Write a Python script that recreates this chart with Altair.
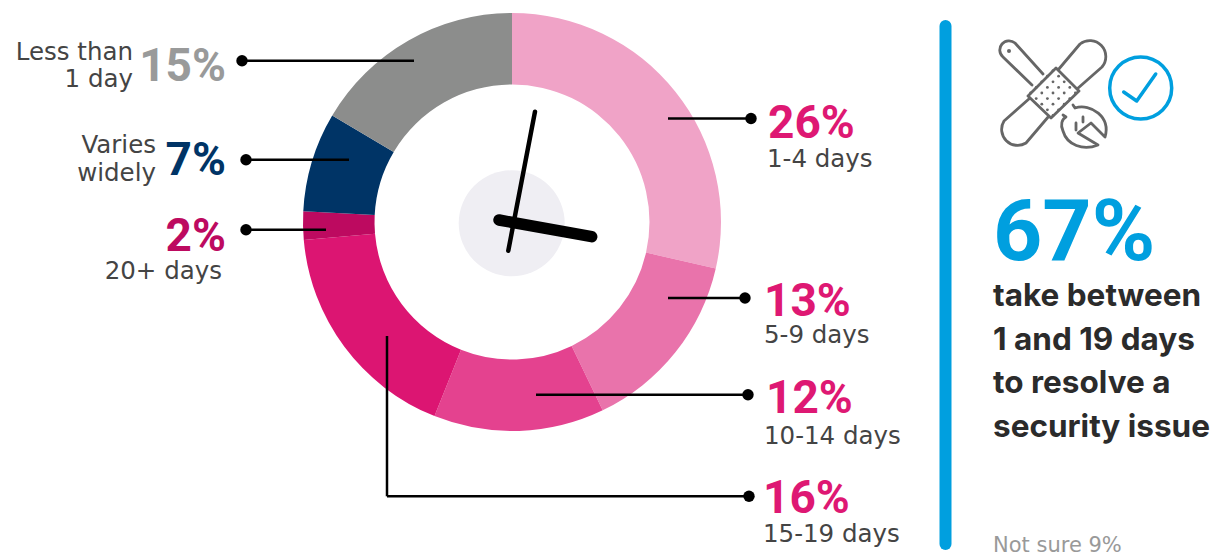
import altair as alt
import pandas as pd

# Chart values
categories = ["1-4 days", "5-9 days", "10-14 days", "15-19 days", "20+ days", "Varies widely", "Less than 1 day"]
shares = [26, 13, 12, 16, 2, 7, 15]
slice_colors = ["#f0a3c7", "#e973ab", "#e4428f", "#dc1572", "#bd0a60", "#003466", "#8c8d8c"]

BODY = "DejaVu Sans"
SIDE = "Inter"
NUM = "Roboto"
W, H = 1202, 546
xs = alt.Scale(domain=[8, 8 + W], range=[0, W])
ys = alt.Scale(domain=[8, 8 + H], range=[0, H])
X = lambda f="x": alt.X(f"{f}:Q", scale=xs, axis=None)
Y = lambda f="y": alt.Y(f"{f}:Q", scale=ys, axis=None)

# donut
pie_df = pd.DataFrame({"cat": categories, "v": shares, "i": range(7), "x": 512, "y": 222})
donut = alt.Chart(pie_df).mark_arc(outerRadius=209, innerRadius=137.5).encode(
    x=X(), y=Y(),
    theta=alt.Theta("v:Q", stack=True),
    order=alt.Order("i:Q"),
    color=alt.Color("cat:N", scale=alt.Scale(domain=categories, range=slice_colors), legend=None),
)

# clock
face = alt.Chart(pd.DataFrame({"x": [511.7], "y": [223.3]})).mark_point(
    shape="circle", filled=True, size=106 ** 2, color="#efeef3", opacity=1).encode(x=X(), y=Y())


def seg(rows, **kw):
    df = pd.DataFrame(rows, columns=["x", "y", "x2", "y2"])
    return alt.Chart(df).mark_rule(**kw).encode(
        x=X(), y=Y(), x2=alt.X2("x2"), y2=alt.Y2("y2"))


minute = seg([[535, 111.7, 508.3, 250.7]], color="black", strokeWidth=4.5, strokeCap="round")
hour = seg([[499, 220, 591.7, 236.7]], color="black", strokeWidth=11.5, strokeCap="round")

# leaders
leaders = seg([
    [668, 118.5, 751, 118.5], [668, 298, 745, 298], [536, 394.7, 748, 394.7],
    [387, 336, 387, 496.3], [387, 496.3, 749, 496.3],
    [242, 60.7, 414, 60.7], [246, 159.7, 349, 159.7], [246, 229.7, 326, 229.7],
], color="black", strokeWidth=2.5)
dots = alt.Chart(pd.DataFrame({
    "x": [751, 745, 748, 749, 242, 246, 246],
    "y": [118.5, 298, 394.7, 496.3, 60.7, 159.7, 229.7]})).mark_point(
    shape="circle", filled=True, size=130, color="black", opacity=1).encode(x=X(), y=Y())

# percentages
pct_rows = [
    ("26%", 768, 137.7, "left", "#de1873"), ("13%", 764, 316, "left", "#de1873"),
    ("12%", 766, 412.7, "left", "#de1873"), ("16%", 763, 512.7, "left", "#de1873"),
    ("15%", 226, 81, "right", "#999a9a"), ("7%", 226, 175, "right", "#003466"),
    ("2%", 226, 250.7, "right", "#bd0a60"),
]
lab_rows = [
    ("1-4 days", 767, 167, "left"), ("5-9 days", 764, 343, "left"),
    ("10-14 days", 764, 444, "left"), ("15-19 days", 763, 542, "left"),
    ("Less than", 133, 60, "right"), ("1 day", 133, 86.7, "right"),
    ("Varies", 156, 153, "right"), ("widely", 156, 180.7, "right"),
    ("20+ days", 222, 279, "right"),
]
side_rows = [
    ("take between", 993, 306), ("1 and 19 days", 993, 350),
    ("to resolve a", 993, 393), ("security issue", 993, 437),
]


def texts(rows, size, font, weight, color=None, align=None):
    layers = []
    for r in rows:
        df = pd.DataFrame([{"t": r[0], "x": r[1], "y": r[2]}])
        a = r[3] if len(r) > 3 else (align or "left")
        c = r[4] if len(r) > 4 else color
        layers.append(alt.Chart(df).mark_text(
            font=font, fontSize=size, fontWeight=weight, align=a, baseline="alphabetic", color=c
        ).encode(x=X(), y=Y(), text="t:N"))
    return layers


pct = texts(pct_rows, 46, NUM, 700)
labs = texts(lab_rows, 24.5, BODY, 400, color="#444444")
side = texts(side_rows, 31.5, SIDE, 700, color="#2b2b2b")
big = texts([("67%", 993, 260)], 86, NUM, 700, color="#009fdf")
note = texts([("Not sure 9%", 993, 552)], 21, BODY, 400, color="#999999")

bar = seg([[945.5, 26, 945.5, 544]], color="#009fdf", strokeWidth=12, strokeCap="round")

# icon: paths are relative to the icon centre at (1053, 93); size=4 gives 1 unit = 1 px
strip = ("M5,-23 L27,-49 A16,16 0 0 1 49,-26 L24,-4 M-4,23 L-27,50 A16,16 0 0 1 -49,28 L-23,5 "
         "M3,-25 L26,-2 L-2,25 L-25,3 Z")
handle = "M-21,-8 L-50,-36 A8,8 0 0 1 -38,-50 L-10,-19"
wrench = ("M20,12 L22,15 C38,10 58,24 52,44 L38,30 L25,40 L45,52 C30,58 14,52 10,38 C7,32 9,26 13,24 L10,22 "
          "M30,24 L30,29 M23,30 L23,37")
check = "M-17,4 L-4,13 L15,-14"
gray = "#666666"


def icon(path, x, y, color, sw):
    return alt.Chart(pd.DataFrame({"x": [x], "y": [y]})).mark_point(
        shape=path, size=4, filled=False, stroke=color, strokeWidth=sw, opacity=1,
        strokeCap="round", strokeJoin="round").encode(x=X(), y=Y())


holes = pd.DataFrame([
    {"x": 1053 + (i - j) * 5.6, "y": 93 + (i + j) * 5.6}
    for i in range(-2, 3) for j in range(-2, 3)
])
hole_dots = alt.Chart(holes).mark_point(shape="circle", filled=True, size=8, color=gray, opacity=1).encode(x=X(), y=Y())
ring = alt.Chart(pd.DataFrame({"x": [1140.7], "y": [88]})).mark_point(
    shape="circle", filled=False, size=62 ** 2, stroke="#009fdf", strokeWidth=3.5, opacity=1).encode(x=X(), y=Y())
pin = alt.Chart(pd.DataFrame({"x": [1009], "y": [51]})).mark_point(
    shape="circle", filled=True, size=16, color=gray, opacity=1).encode(x=X(), y=Y())

chart = alt.layer(
    donut, face, hour, minute, leaders, dots, bar,
    icon(strip, 1053, 93, gray, 2.8), icon(handle, 1053, 93, gray, 2.8), icon(wrench, 1053, 93, gray, 2.8),
    hole_dots, pin, ring, icon(check, 1140.7, 88, "#009fdf", 3.5),
    *pct, *labs, *side, *big, *note,
).properties(width=W, height=H, padding=0, autosize="none").configure_view(stroke=None)

chart.save("out.html", embed_options={"renderer": "svg", "actions": False})
